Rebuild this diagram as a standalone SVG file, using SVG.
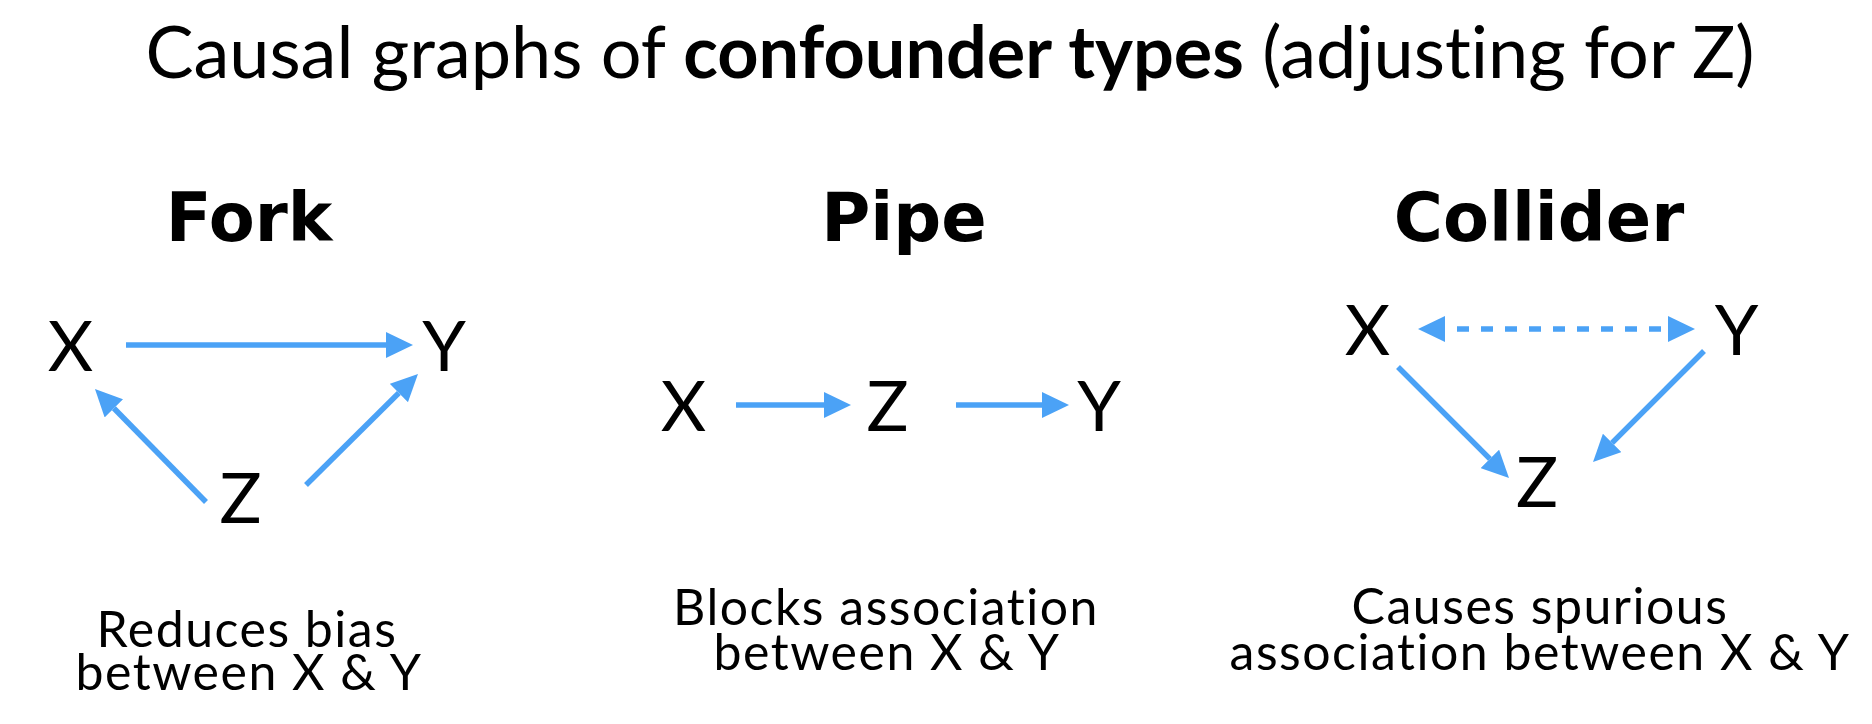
<svg xmlns="http://www.w3.org/2000/svg" width="1872" height="724" viewBox="0 0 1872 724">
<style>
  .title { font-family: Lato, "Noto Sans", "Liberation Sans", sans-serif; font-size: 72px; fill: #000; font-variant-ligatures: none; }
  .b { font-weight: bold; }
  .head { font-family: "DejaVu Sans", "Liberation Sans", sans-serif; font-weight: bold; font-size: 67px; fill: #000; text-anchor: middle; }
  .node { font-family: Lato, "Noto Sans", "Liberation Sans", sans-serif; font-size: 70px; fill: #000; text-anchor: middle; }
  .cap { font-family: Lato, "Noto Sans", "Liberation Sans", sans-serif; font-size: 50px; letter-spacing: 1.5px; fill: #000; text-anchor: middle; font-variant-ligatures: none; }
  .edge { stroke: #4BA2F6; stroke-width: 5.5; fill: none; marker-end: url(#ah); }
  .dash { stroke-dasharray: 12 12; stroke-dashoffset: 12; marker-start: url(#ah); }
</style>
<defs>
  <marker id="ah" markerUnits="userSpaceOnUse" markerWidth="27" markerHeight="26" viewBox="0 0 27 26" refX="0" refY="13" orient="auto-start-reverse">
    <path d="M0,0 L27,13 L0,26 z" fill="#4BA2F6"/>
  </marker>
</defs>
<rect width="1872" height="724" fill="#fff"/>
<text class="title" x="950" y="78" text-anchor="middle">Causal graphs of <tspan class="b">confounder types</tspan> (adjusting for Z)</text>

<g id="fork">
  <text class="head" x="249" y="241">Fork</text>
  <g id="fork-X"><text class="node" x="70.5" y="371">X</text></g>
  <g id="fork-Y"><text class="node" x="444" y="371">Y</text></g>
  <g id="fork-Z"><text class="node" x="240.5" y="523">Z</text></g>
  <text class="cap" x="247" y="647">Reduces bias</text>
  <text class="cap" x="249" y="690">between X &amp; Y</text>
</g>
<g id="pipe">
  <text class="head" x="904" y="241">Pipe</text>
  <g id="pipe-X"><text class="node" x="683.5" y="431">X</text></g>
  <g id="pipe-Z"><text class="node" x="887.5" y="431">Z</text></g>
  <g id="pipe-Y"><text class="node" x="1099" y="431">Y</text></g>
  <text class="cap" x="886" y="625">Blocks association</text>
  <text class="cap" x="887" y="670">between X &amp; Y</text>
</g>
<g id="collider">
  <text class="head" x="1539" y="241">Collider</text>
  <g id="col-X"><text class="node" x="1367.5" y="355">X</text></g>
  <g id="col-Y"><text class="node" x="1736.5" y="355">Y</text></g>
  <g id="col-Z"><text class="node" x="1537" y="507">Z</text></g>
  <text class="cap" x="1540" y="624">Causes spurious</text>
  <text class="cap" x="1540" y="670">association between X &amp; Y</text>
</g>

<g id="connectors">
  <line class="edge" x1="126" y1="345" x2="386" y2="345"/>
  <line class="edge" x1="206" y1="502" x2="113.9" y2="408.3"/>
  <line class="edge" x1="306" y1="485" x2="398.8" y2="393"/>
  <line class="edge" x1="736" y1="405" x2="824" y2="405"/>
  <line class="edge" x1="956" y1="405" x2="1042" y2="405"/>
  <line class="edge dash" x1="1445" y1="329" x2="1668" y2="329"/>
  <line class="edge" x1="1398" y1="367" x2="1489.9" y2="458.9"/>
  <line class="edge" x1="1704" y1="351" x2="1612.1" y2="442.9"/>
</g>
</svg>
